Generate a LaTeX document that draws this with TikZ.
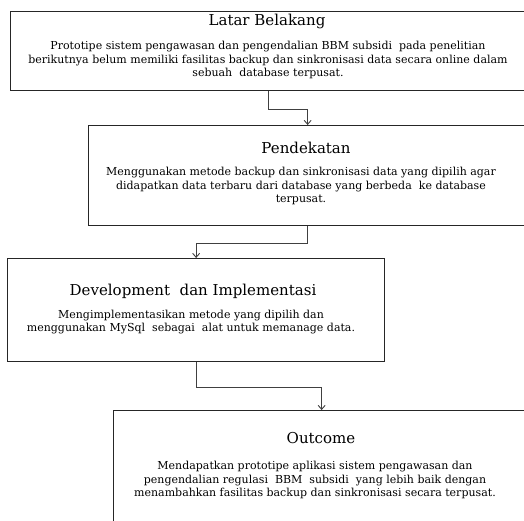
\documentclass[tikz,border=0pt]{standalone}
\usepackage{fontspec}
\setmainfont{DejaVu Serif}
\usetikzlibrary{arrows.meta}

\tikzset{
  kotak/.style={draw=black!85, line width=1.3pt, inner sep=0pt, anchor=north west},
  judul/.style={font=\fontsize{15}{17}\selectfont},
  isi/.style={font=\fontsize{11}{13.8}\selectfont, align=center},
  panah/.style={draw=black!75, line width=0.9pt, -{Straight Barb[length=4pt,width=7pt]}}
}

\begin{document}
\begin{tikzpicture}[x=1pt, y=-1pt]
            \clip (0,0) rectangle (524,521);

            % kotak
            \node[kotak, minimum width=516pt, minimum height=79pt] (latar) at (10,11) {};
            \node[kotak, minimum width=438pt, minimum height=100pt] (pendekatan) at (88,125) {};
            \node[kotak, minimum width=377pt, minimum height=103pt] (develop) at (7,258) {};
            \node[kotak, minimum width=416pt, minimum height=130pt] (outcome) at (113,410) {};

            % judul
            \node[judul] (latarjudul) at (267,21) {Latar Belakang};
            \node[judul] (pendekatanjudul) at (306,148) {Pendekatan};
            \node[judul] (developjudul) at (193,291) {Development~ dan Implementasi};
            \node[judul] (outcomejudul) at (321,438) {Outcome};

            % isi
            \node[isi] (latarisi) at (268,60) {Prototipe sistem pengawasan dan pengendalian BBM subsidi~ pada penelitian\\
                berikutnya belum memiliki fasilitas backup dan sinkronisasi data secara online dalam\\
                sebuah~ database terpusat.};
            \node[isi] (pendekatanisi) at (301,186) {Menggunakan metode backup dan sinkronisasi data yang dipilih agar\\
                didapatkan data terbaru dari database yang berbeda~ ke database\\
                terpusat.};
            \node[isi] (developisi) at (191,322) {Mengimplementasikan metode yang dipilih dan\\
                menggunakan MySql~ sebagai~ alat untuk memanage data.};
            \node[isi] (outcomeisi) at (315,480) {Mendapatkan prototipe aplikasi sistem pengawasan dan\\
                pengendalian regulasi~ BBM~ subsidi~ yang lebih baik dengan\\
                menambahkan fasilitas backup dan sinkronisasi secara terpusat.};

            % panah
            \draw[panah] (latar.south) -- ++(0,18) -| (pendekatan.north);
            \draw[panah] (pendekatan.south) -- ++(0,17) -| (develop.north);
            \draw[panah] (develop.south) -- ++(0,25) -| (outcome.north);
        \end{tikzpicture}
\end{document}
